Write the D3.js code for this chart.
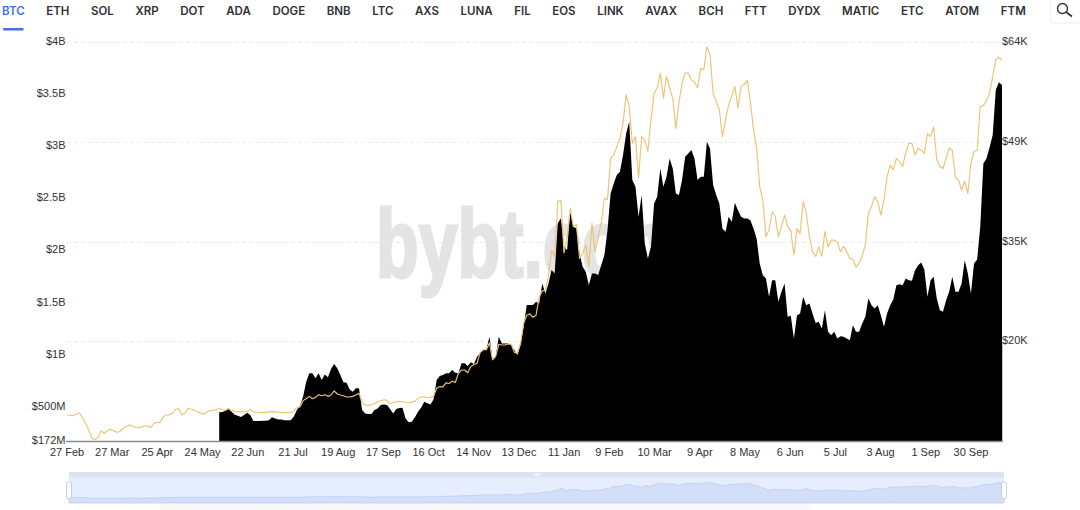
<!DOCTYPE html>
<html><head><meta charset="utf-8">
<script src="https://cdn.jsdelivr.net/npm/d3@7"></script>
<style>html,body{margin:0;padding:0;background:#fff;overflow:hidden}svg{display:block}</style>
</head><body><svg id="c" width="1080" height="510"></svg>
<script>
const coins=["BTC","ETH","SOL","XRP","DOT","ADA","DOGE","BNB","LTC","AXS","LUNA","FIL","EOS","LINK","AVAX","BCH","FTT","DYDX","MATIC","ETC","ATOM","FTM"];
const dateLabels=["27 Feb","27 Mar","25 Apr","24 May","22 Jun","21 Jul","19 Aug","17 Sep","16 Oct","14 Nov","13 Dec","11 Jan","9 Feb","10 Mar","9 Apr","8 May","6 Jun","5 Jul","3 Aug","1 Sep","30 Sep"];
const leftTicks=[172,500,1000,1500,2000,2500,3000,3500,4000];
const leftLabels=["$172M","$500M","$1B","$1.5B","$2B","$2.5B","$3B","$3.5B","$4B"];
const rightTicks=[5,19.75,34.5,49.25,64];
const rightLabels=["","$20K","$35K","$49K","$64K"];
// BTC price in $K, one reading every 2 days from 27 Feb
const price=[8.85,8.8,8.75,9.0,9.14,8.45,7.6,6.6,5.45,5.2,5.5,6.5,6.14,6.5,6.75,6.5,6.3,6.4,6.85,7.1,7.35,7.25,7.0,6.95,7.05,7.25,7.2,7.0,7.6,7.75,7.8,8.6,8.85,8.9,9.1,9.7,9.75,8.85,9.1,9.85,9.7,9.6,9.3,9.15,8.95,9.3,9.5,9.55,9.65,9.8,9.65,9.6,9.8,9.55,9.4,9.35,9.3,9.3,9.4,9.7,9.3,9.25,9.25,9.2,9.2,9.3,9.35,9.3,9.25,9.2,9.2,9.2,9.2,9.4,9.9,
10.05,10.97,11.25,11.6,11.26,11.45,11.85,11.7,11.85,11.6,11.8,12.4,11.95,11.8,11.7,11.5,11.5,11.6,11.8,12.05,10.8,10.3,10.25,10.35,10.5,10.85,10.95,11.1,11.0,10.55,10.65,10.8,10.85,10.8,10.7,10.65,10.75,10.9,11.3,11.55,11.5,11.4,11.45,11.6,12.8,13.05,13.0,13.6,13.5,13.85,13.65,15.0,15.5,15.5,15.1,16.0,16.3,16.5,18.1,18.5,18.5,19.5,17.0,17.5,19.3,19.2,19.2,19.35,19.3,18.1,18.0,19.4,22.4,23.6,23.8,23.3,23.6,26.3,27.2,27.3,29.3,33.2,32.3,40.4,40.6,32.8,35,39.4,36.7,37,32,32.8,34,30.8,37.2,33,35.2,37.2,40.9,40.7,46.8,47.3,48.5,49.8,52,56.2,54.4,49,50,43.9,50,49.5,47.8,52.5,56.4,57.2,59.4,55.7,58.9,57.2,55.7,51.2,55,57.9,59.4,59.4,58.4,58.1,57.2,60.1,59.9,63.3,62.1,56.4,55.2,54,50,52.5,54.7,56,57.4,54.2,57.4,57.7,58.3,55.2,51,48.3,42.6,40.6,35.2,36.2,38.9,38.2,35.2,36.7,38.4,36.7,36.1,32.5,36.4,35.7,40.4,38.7,35.2,33,32.3,33.7,32.3,36,33.7,34.7,34.7,34.4,33,33.8,33,32,31.9,30.7,31.3,32.4,34,38.7,39.7,41.1,40.4,38.4,40.6,44.1,45.8,45.1,46.8,46.3,45.6,47.6,49,49,47.3,48.3,48,47.5,50.5,50,51.4,46.6,45.6,45.3,46.8,48.3,48,43.9,43.6,42.1,43.4,41.6,46.1,47.8,48,54.5,54.6,55.3,56.4,58.9,61.4,61.7,61.3];
// Open interest in $M; the series begins at reading no. oiFirst of the price series
const oiFirst=49;
const oi=[447,450,463,479,453,424,415,402,421,443,421,363,363,363,367,367,370,399,389,379,379,370,370,370,405,469,
511,597,741,821,821,773,821,757,811,783,863,911,869,805,735,731,667,645,677,677,469,437,431,431,469,485,517,523,517,479,437,479,488,491,389,351,357,399,453,491,549,533,523,571,757,795,805,821,821,853,827,821,917,917,891,927,911,981,1019,1045,1045,1172,948,980,1172,1108,1108,1108,1092,1044,996,1092,1268,1476,1476,1476,1508,1492,1684,1588,1684,1812,1780,2260,2308,2036,2004,2372,2228,2212,1972,1844,1796,1668,1780,1780,1764,1860,1956,2195,2547,2643,2723,2755,2915,3123,3235,2675,2611,2323,2531,2067,1923,2035,2451,2515,2787,2611,2707,2883,2787,2547,2531,2675,2899,2931,2963,2883,2675,2707,2707,3043,2979,2627,2531,2451,2211,2179,2323,2275,2457,2387,2323,2307,2307,2291,2211,2115,1875,1763,1731,1555,1715,1715,1507,1603,1683,1363,1373,1155,1379,1395,1555,1475,1491,1395,1305,1315,1251,1427,1219,1187,1219,1155,1177,1171,1155,1139,1283,1219,1219,1299,1363,1539,1475,1443,1475,1379,1267,1395,1475,1529,1667,1677,1667,1731,1715,1709,1811,1859,1885,1817,1555,1715,1747,1539,1427,1411,1523,1603,1747,1603,1603,1683,1907,1779,1587,1875,1913,2227,2835,2883,2989,3107,3539,3613,3587];

const svg=d3.select("#c");
const L=67,R=1002,T=42,B=441;
const x=d3.scaleLinear().domain([0,price.length-1]).range([L,R]);
const yL=d3.scaleLinear().domain([172,4000]).range([B,T]);
const yR=d3.scaleLinear().domain([5,64]).range([B,T]);
const xTick=d3.scalePoint().domain(dateLabels).range([67,971]);
const sans="'Liberation Sans',Arial,sans-serif";

// tabs
const tabs=svg.append("g");
let cx=2;
coins.forEach((c,i)=>{
  const t=tabs.append("text").attr("x",cx).attr("y",14.5).text(c)
    .attr("font-family","Inter,'Noto Sans',sans-serif").attr("font-size",11.5).attr("font-weight",600)
    .attr("fill",i===0?"#3f6ff0":"#2f3136");
  const w=t.node().getComputedTextLength();
  if(i===0) tabs.append("rect").attr("x",cx+1).attr("y",28).attr("width",w-2).attr("height",2.4).attr("rx",1.2).attr("fill","#3f6ff0");
  cx+=w+21.6;
});
// search button
svg.append("rect").attr("x",1050.5).attr("y",-6).attr("width",40).attr("height",29).attr("rx",3).attr("fill","#fff").attr("stroke","#eceef1");
svg.append("circle").attr("cx",1062.5).attr("cy",8.5).attr("r",5).attr("fill","none").attr("stroke","#333").attr("stroke-width",1.4);
svg.append("line").attr("x1",1066.3).attr("y1",12.2).attr("x2",1072).attr("y2",16.5).attr("stroke","#333").attr("stroke-width",1.7);

// grid
svg.append("g").selectAll("line").data(rightTicks.slice(1)).join("line")
  .attr("x1",L).attr("x2",R).attr("y1",d=>Math.round(yR(d))+.5).attr("y2",d=>Math.round(yR(d))+.5)
  .attr("stroke","#ececec").attr("stroke-dasharray","4 3");

// watermark
svg.append("text").attr("transform","translate(376,277) scale(.72,1)").text("bybt.com")
  .attr("font-family",sans).attr("font-weight",700).attr("font-size",97).attr("fill","#e4e4e4").attr("stroke","#e4e4e4").attr("stroke-width",3);

// open interest area
const oiRows=oi.map((v,i)=>({i:i+oiFirst,v}));
svg.append("path").datum(oiRows).attr("fill","#000")
  .attr("d",d3.area().x(d=>x(d.i)).y0(B).y1(d=>yL(d.v)));
// price line
svg.append("path").datum(price).attr("fill","none").attr("stroke","#ecc375").attr("stroke-width",1.15)
  .attr("stroke-linejoin","round")
  .attr("d",d3.line().x((d,i)=>x(i)).y(d=>yR(d)));

// axes
svg.append("line").attr("x1",L-1).attr("x2",R+1).attr("y1",B+.5).attr("y2",B+.5).attr("stroke","#8a8a8a").attr("stroke-width",1.4);
svg.append("line").attr("x1",R+.5).attr("x2",R+.5).attr("y1",T+300).attr("y2",B).attr("stroke","#c4c4c4");
const labelStyle=s=>s.attr("font-family",sans).attr("font-size",11).attr("fill","#333");
svg.append("g").selectAll("text").data(leftTicks).join("text")
  .attr("x",65.5).attr("y",d=>yL(d)+3).attr("text-anchor","end").text((d,i)=>leftLabels[i]).call(labelStyle);
svg.append("g").selectAll("text").data(rightTicks).join("text")
  .attr("x",1002).attr("y",d=>yR(d)+3).text((d,i)=>rightLabels[i]).call(labelStyle);
svg.append("g").selectAll("text").data(dateLabels).join("text")
  .attr("x",d=>xTick(d)).attr("y",456).attr("text-anchor","middle").text(d=>d).call(labelStyle);

// range slider
const sx0=69,sx1=1004,sTop=472,sBot=503;
svg.append("rect").attr("x",160).attr("y",sBot).attr("width",650).attr("height",7).attr("fill","#f8f8f8");
svg.append("rect").attr("x",sx0).attr("y",sTop).attr("width",sx1-sx0).attr("height",sBot-sTop).attr("fill","#e6edfc");
svg.append("rect").attr("x",sx0).attr("y",sTop).attr("width",sx1-sx0).attr("height",5.5).attr("fill","#dce4f4");
const xm=d3.scaleLinear().domain([0,price.length-1]).range([sx0,sx1]);
const ym=d3.scaleLinear().domain([0,64]).range([500,482]);
svg.append("path").datum(price).attr("fill","#d3dff8").attr("stroke","#bccdf2").attr("stroke-width",.8)
  .attr("d",d3.area().x((d,i)=>xm(i)).y0(sBot).y1(d=>ym(d)));
[sx0,sx1].forEach(v=>{
  svg.append("rect").attr("x",v-2.5).attr("y",482).attr("width",5).attr("height",16.5).attr("rx",1.5).attr("fill","#fff").attr("stroke","#b9c6e0").attr("stroke-width",.8);
});
[-2,0,2].forEach(o=>svg.append("rect").attr("x",536.5+o).attr("y",473.5).attr("width",1).attr("height",2.5).attr("fill","#fff"));
</script></body></html>
